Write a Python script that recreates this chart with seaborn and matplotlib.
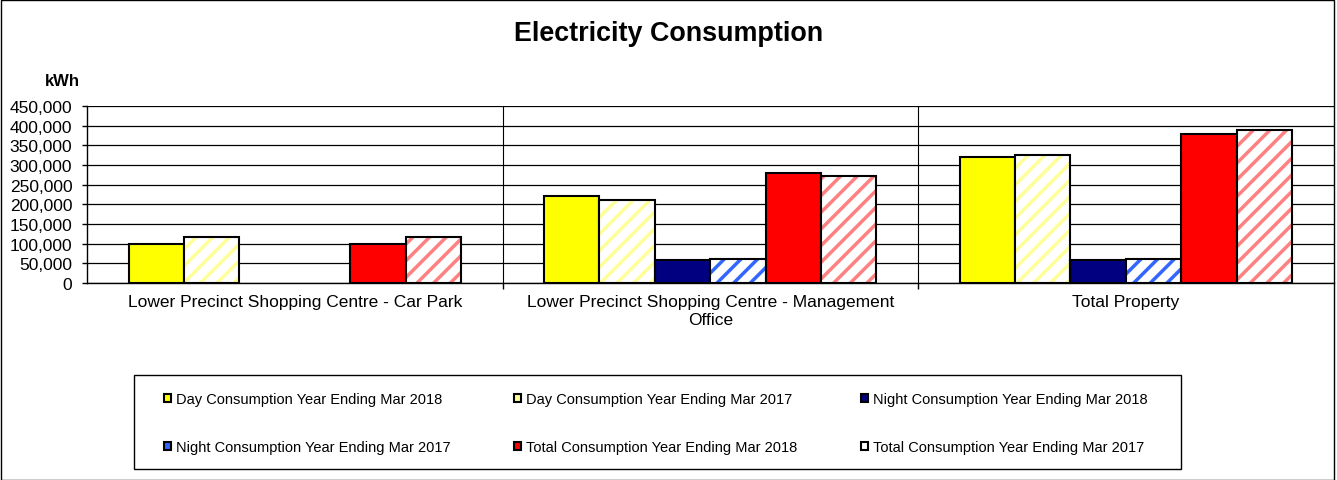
import numpy as np
import pandas as pd
import matplotlib
matplotlib.use('Agg')
import matplotlib.pyplot as plt
import seaborn as sns
from matplotlib.patches import Patch, Rectangle
from matplotlib.ticker import FuncFormatter, FixedLocator

# Data
categories = ['Lower Precinct Shopping Centre - Car Park',
              'Lower Precinct Shopping Centre - Management\nOffice',
              'Total Property']
series = ['Day Consumption Year Ending Mar 2018',
          'Day Consumption Year Ending Mar 2017',
          'Night Consumption Year Ending Mar 2018',
          'Night Consumption Year Ending Mar 2017',
          'Total Consumption Year Ending Mar 2018',
          'Total Consumption Year Ending Mar 2017']
day_2018 = [100000, 220000, 320000]
day_2017 = [116000, 210000, 326000]
night_2018 = [np.nan, 58000, 58000]
night_2017 = [np.nan, 61000, 61000]
total_2018 = [100000, 279000, 379000]
total_2017 = [116000, 272000, 388000]

colors = ['#FFFF00', '#FFFF99', '#000080', '#3366FF', '#FF0000', '#FF8080']
hatched = [False, True, False, True, False, True]
legend_colors = ['#FFFF00', '#FFFF99', '#000080', '#3366FF', '#FF0000', '#FFFFFF']

rows = []
for s, vals in zip(series, [day_2018, day_2017, night_2018, night_2017, total_2018, total_2017]):
    for c, v in zip(categories, vals):
        rows.append({'Category': c, 'Series': s, 'kWh': v})
df = pd.DataFrame(rows).dropna()

sns.set_style('white')
plt.rcParams['font.family'] = ['Liberation Sans', 'DejaVu Sans']
plt.rcParams['hatch.linewidth'] = 2.5
plt.rcParams['text.color'] = 'black'
plt.rcParams['xtick.color'] = 'black'
plt.rcParams['ytick.color'] = 'black'

fig = plt.figure(figsize=(13.37, 4.81), dpi=100)
ax = fig.add_axes([0.0651, 0.4096, 0.9323, 0.3679])

sns.barplot(data=df, x='Category', y='kWh', hue='Series', order=categories,
            hue_order=series, palette=colors, width=0.8, edgecolor='black',
            linewidth=1.5, saturation=1, legend=False, ax=ax)

# 2017 bars: white with coloured diagonal stripes and black outline
for cont, col, h in zip(ax.containers, colors, hatched):
    if not h:
        continue
    for p in cont.patches:
        p.set_facecolor('white')
        p.set_hatch('//')
        p.set_edgecolor(col)
        p.set_linewidth(0)
        ax.add_patch(Rectangle(p.get_xy(), p.get_width(), p.get_height(),
                               fill=False, edgecolor='black', linewidth=1.5,
                               zorder=p.get_zorder() + 0.1))

ax.set_ylim(0, 450000)
ax.set_xlim(-0.5, 2.5)
ax.set_yticks(np.arange(0, 450001, 50000))
ax.yaxis.set_major_formatter(FuncFormatter(lambda v, _: f'{int(v):,}'))
ax.grid(axis='y', color='black', linewidth=0.9)
ax.set_axisbelow(True)
ax.xaxis.set_minor_locator(FixedLocator([0.5, 1.5]))
ax.grid(axis='x', which='minor', color='black', linewidth=0.8)
ax.tick_params(axis='x', which='major', length=0, labelsize=12.5, pad=8)
ax.tick_params(axis='x', which='minor', bottom=True, length=4, width=1, direction='out')
ax.tick_params(axis='y', left=True, length=3.6, width=1, direction='out', labelsize=12.5, pad=7)
for t in ax.get_xticklabels():
    t.set_linespacing(1.25)
ax.set_xlabel('')
ax.set_ylabel('')
for side in ['top', 'right']:
    ax.spines[side].set_visible(False)
for side in ['left', 'bottom']:
    ax.spines[side].set_color('black')
    ax.spines[side].set_linewidth(1)

fig.text(0.5, 0.929, 'Electricity Consumption', ha='center', va='center',
         fontsize=19.4, fontweight='bold')
fig.text(45 / 1337, 1 - 82 / 481, 'kWh', ha='left', va='center', fontsize=12, fontweight='bold')

# legend, filled row by row like the original
order = [0, 3, 1, 4, 2, 5]
handles = [Patch(facecolor=legend_colors[i], edgecolor='black', linewidth=1.5) for i in order]
labels = [series[i] for i in order]
leg = fig.legend(handles, labels, loc='upper left', ncol=3, mode='expand',
                 bbox_to_anchor=(164 / 1337, 0.0, 984 / 1337, 1 - 393 / 481),
                 frameon=False, fontsize=10.5, handlelength=0.48, handleheight=0.48,
                 handletextpad=0.35, labelspacing=2.35, borderpad=0, borderaxespad=0)

fig.patches.append(Rectangle((134 / 1337, 1 - 470 / 481), 1047 / 1337, 94 / 481,
                             transform=fig.transFigure, fill=False, edgecolor='black', linewidth=1))
fig.patches.append(Rectangle((0.001, 0.001), 0.997, 0.997, transform=fig.transFigure,
                             fill=False, edgecolor='black', linewidth=1))

fig.savefig('out.png', dpi=100)
